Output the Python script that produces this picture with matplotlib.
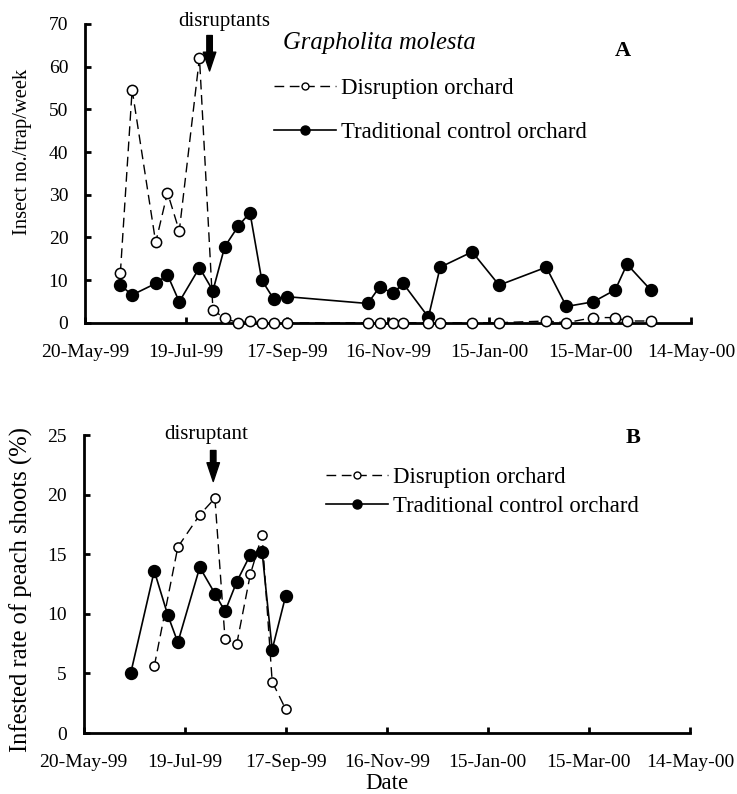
import matplotlib
matplotlib.use("Agg")
import matplotlib.pyplot as plt
import matplotlib.dates as mdates
from matplotlib.lines import Line2D
import pandas as pd

plt.rcParams['font.family'] = ['Liberation Serif', 'DejaVu Serif']

# ---------------- data ----------------
trap_dates = ["1999-06-10", "1999-06-17", "1999-07-01", "1999-07-08", "1999-07-15",
              "1999-07-27", "1999-08-04", "1999-08-11", "1999-08-19", "1999-08-26",
              "1999-09-02", "1999-09-09", "1999-09-17", "1999-11-04", "1999-11-11",
              "1999-11-19", "1999-11-25", "1999-12-10", "1999-12-17", "2000-01-05",
              "2000-01-21", "2000-02-18", "2000-03-01", "2000-03-17", "2000-03-30",
              "2000-04-06", "2000-04-20"]
trap_disruption = [11.6, 54.6, 18.8, 30.5, 21.5, 62.1, 3.0, 1.0, 0.0, 0.3, 0.0, 0.0, 0.0,
                   0.0, 0.0, 0.0, 0.0, 0.0, 0.0, 0.0, 0.0, 0.4, 0.0, 1.2, 1.2, 0.4, 0.4]
trap_traditional = [8.8, 6.5, 9.2, 11.2, 4.9, 12.9, 7.5, 17.8, 22.6, 25.8, 10.0, 5.6, 6.1,
                    4.5, 8.4, 6.9, 9.2, 1.3, 13.0, 16.6, 8.8, 13.0, 3.8, 4.9, 7.7, 13.7, 7.7]

shoot_dates_trad = ["1999-06-17", "1999-07-01", "1999-07-09", "1999-07-15", "1999-07-28",
                    "1999-08-06", "1999-08-12", "1999-08-19", "1999-08-27", "1999-09-03",
                    "1999-09-09", "1999-09-17"]
shoot_traditional = [5.0, 13.6, 9.9, 7.6, 13.9, 11.7, 10.2, 12.7, 14.95, 15.2, 7.0, 11.5]
shoot_dates_disr = ["1999-07-01", "1999-07-15", "1999-07-28", "1999-08-06", "1999-08-12",
                    "1999-08-19", "1999-08-27", "1999-09-03", "1999-09-09", "1999-09-17"]
shoot_disruption = [5.6, 15.6, 18.3, 19.7, 7.9, 7.5, 13.3, 16.6, 4.3, 2.0]

x_ticks = ["1999-05-20", "1999-07-19", "1999-09-17", "1999-11-16",
           "2000-01-15", "2000-03-15", "2000-05-14"]
series_labels = ["Disruption orchard", "Traditional control orchard"]

# --------------------------------------
trap_dates = pd.to_datetime(trap_dates)
shoot_dates_trad = pd.to_datetime(shoot_dates_trad)
shoot_dates_disr = pd.to_datetime(shoot_dates_disr)
x_ticks = pd.to_datetime(x_ticks)

W, H = 737, 794
fig = plt.figure(figsize=(W / 100, H / 100), dpi=100)

def px_axes(l, t, r, b):
    return fig.add_axes([l / W, 1 - b / H, (r - l) / W, (b - t) / H])

axA = px_axes(85, 24, 691, 322.7)
axB = px_axes(83.5, 435, 690, 733)

dash = (0, (7, 4))
arrow_style = 'simple,head_length=0.75,head_width=0.5,tail_width=0.22'

def style(ax, ymax, ystep, xpad):
    ax.set_xlim(x_ticks[0], x_ticks[-1])
    ax.set_ylim(0, ymax)
    ax.set_xticks(x_ticks)
    ax.xaxis.set_major_formatter(mdates.DateFormatter('%d-%b-%y'))
    ax.set_yticks(range(0, ymax + 1, ystep))
    for s in ['top', 'right']:
        ax.spines[s].set_visible(False)
    for s in ['left', 'bottom']:
        ax.spines[s].set_linewidth(2.0)
    ax.tick_params(axis='both', direction='in', length=4, width=2, labelsize=14)
    ax.tick_params(axis='y', pad=12)
    ax.tick_params(axis='x', pad=xpad)

# ---------- Panel A ----------
axA.plot(trap_dates, trap_traditional, '-', color='black', lw=1.2, marker='o',
         ms=8.6, mfc='black', mec='black', clip_on=False, zorder=3)
axA.plot(trap_dates, trap_disruption, linestyle=dash, color='black', lw=1.0, marker='o',
         ms=7.4, mfc='white', mec='black', mew=1.1, clip_on=False, zorder=4)
style(axA, 70, 10, 15)
axA.set_ylabel("Insect no./trap/week", fontsize=14.8, va='center')
axA.yaxis.set_label_coords(-0.103, 0.573)

axA.annotate("", xy=(pd.Timestamp("1999-08-02"), 59.0), xytext=(pd.Timestamp("1999-08-02"), 67.3),
             arrowprops=dict(arrowstyle=arrow_style, fc='black', ec='black',
                             mutation_scale=18, shrinkA=0, shrinkB=0),
             annotation_clip=False)
axA.text(pd.Timestamp("1999-08-11"), 70.5, "disruptants", ha='center', va='center',
         fontsize=15, clip_on=False)
axA.text(0.326, 0.937, "Grapholita molesta", transform=axA.transAxes, ha='left',
         va='center', fontsize=17.7, style='italic')
axA.text(0.888, 0.908, "A", transform=axA.transAxes, ha='center', va='center',
         fontsize=16, fontweight='bold')

hA = [Line2D([], [], linestyle=dash, color='black', lw=1.0, marker='o', ms=5,
             mfc='white', mec='black', mew=1.0),
      Line2D([], [], linestyle='-', color='black', lw=1.2, marker='o', ms=6.5,
             mfc='black', mec='black')]
axA.legend(hA, series_labels, loc='upper left', bbox_to_anchor=(0.312, 0.82),
           frameon=False, borderpad=0, borderaxespad=0, fontsize=16.4,
           handlelength=2.72, handletextpad=0.22, labelspacing=1.0)

# ---------- Panel B ----------
axB.plot(shoot_dates_trad, shoot_traditional, '-', color='black', lw=1.2, marker='o',
         ms=8.6, mfc='black', mec='black', clip_on=False, zorder=3)
axB.plot(shoot_dates_disr, shoot_disruption, linestyle=dash, color='black', lw=1.0,
         marker='o', ms=6.6, mfc='white', mec='black', mew=1.1, clip_on=False, zorder=4)
style(axB, 25, 5, 15)
axB.set_ylabel("Infested rate of peach shoots (%)", fontsize=17.7, va='center')
axB.yaxis.set_label_coords(-0.103, 0.48)
axB.set_xlabel("Date", fontsize=16.5, va='center')
axB.xaxis.set_label_coords(0.5004, -0.168)

axB.annotate("", xy=(pd.Timestamp("1999-08-05"), 21.1), xytext=(pd.Timestamp("1999-08-05"), 23.7),
             arrowprops=dict(arrowstyle=arrow_style, fc='black', ec='black',
                             mutation_scale=18, shrinkA=0, shrinkB=0),
             annotation_clip=False)
axB.text(pd.Timestamp("1999-08-01"), 25.0, "disruptant", ha='center', va='center',
         fontsize=15, clip_on=False)
axB.text(0.906, 0.99, "B", transform=axB.transAxes, ha='center', va='center',
         fontsize=16, fontweight='bold')

hB = [Line2D([], [], linestyle=dash, color='black', lw=1.0, marker='o', ms=5,
             mfc='white', mec='black', mew=1.0),
      Line2D([], [], linestyle='-', color='black', lw=1.2, marker='o', ms=6.5,
             mfc='black', mec='black')]
axB.legend(hB, series_labels, loc='upper left', bbox_to_anchor=(0.40, 0.893),
           frameon=False, borderpad=0, borderaxespad=0, fontsize=16.4,
           handlelength=2.72, handletextpad=0.22, labelspacing=0.375)

fig.savefig("out.png", dpi=100)
